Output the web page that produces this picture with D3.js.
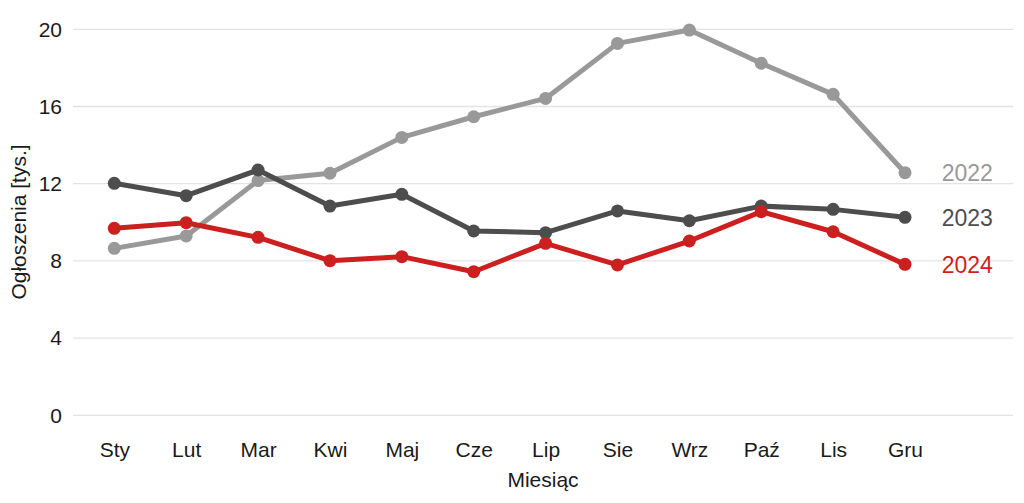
<!DOCTYPE html>
<html>
<head>
<meta charset="utf-8">
<script src="https://cdn.jsdelivr.net/npm/d3@7"></script>
<style>
  html, body { margin: 0; padding: 0; background: #ffffff; }
  svg { display: block; font-family: "Liberation Sans", Arial, sans-serif; }
</style>
</head>
<body>
<svg id="chart" width="1024" height="503"></svg>
<script>
const months = ["Sty", "Lut", "Mar", "Kwi", "Maj", "Cze", "Lip", "Sie", "Wrz", "Paź", "Lis", "Gru"];
const years = ["2022", "2023", "2024"];
const values2022 = [8.65, 9.29, 12.16, 12.54, 14.40, 15.47, 16.42, 19.27, 19.96, 18.24, 16.63, 12.57];
const values2023 = [12.02, 11.38, 12.71, 10.84, 11.45, 9.55, 9.46, 10.59, 10.08, 10.84, 10.67, 10.26];
const values2024 = [9.69, 9.98, 9.22, 8.01, 8.22, 7.44, 8.91, 7.79, 9.03, 10.55, 9.51, 7.82];
const yTicks = [0, 4, 8, 12, 16, 20];
const colors = ["#999999", "#4d4d4d", "#cc1f1f"];
const xTitle = "Miesiąc";
const yTitle = "Ogłoszenia [tys.]";

const seriesValues = [values2022, values2023, values2024];
const series = years.map((y, i) => ({ year: y, color: colors[i], values: seriesValues[i] }));

const svg = d3.select("#chart");
const W = 1024, H = 503;
const gridLeft = 73, gridRight = 1013;

const x = d3.scalePoint().domain(months).range([114.3, 905]);
const y = d3.scaleLinear().domain([0, 20]).range([415.3, 29.3]);

// grid lines
svg.append("g")
  .selectAll("line")
  .data(yTicks)
  .join("line")
  .attr("x1", gridLeft).attr("x2", gridRight)
  .attr("y1", d => y(d)).attr("y2", d => y(d))
  .attr("stroke", "#e3e3e3").attr("stroke-width", 1.3);

// y axis
const yAxis = svg.append("g")
  .attr("transform", `translate(${gridLeft},0)`)
  .call(d3.axisLeft(y).tickValues(yTicks).tickSize(0).tickPadding(11));
yAxis.select(".domain").remove();
yAxis.selectAll("text")
  .attr("font-size", 21)
  .attr("font-family", "'Liberation Sans', Arial, sans-serif")
  .attr("fill", "#1a1a1a");

// x axis
const xAxis = svg.append("g")
  .attr("transform", `translate(0,415.3)`)
  .call(d3.axisBottom(x).tickSize(0).tickPadding(27));
xAxis.select(".domain").remove();
xAxis.selectAll("text")
  .attr("font-size", 21)
  .attr("font-family", "'Liberation Sans', Arial, sans-serif")
  .attr("fill", "#1a1a1a");

// axis titles
svg.append("text")
  .attr("x", 543).attr("y", 487)
  .attr("text-anchor", "middle")
  .attr("font-size", 21)
  .attr("fill", "#1a1a1a")
  .text(xTitle);

svg.append("text")
  .attr("transform", `translate(25.5,222) rotate(-90)`)
  .attr("text-anchor", "middle")
  .attr("font-size", 21)
  .attr("fill", "#1a1a1a")
  .text(yTitle);

const line = d3.line()
  .x((d, i) => x(months[i]))
  .y(d => y(d));

// lines
svg.append("g")
  .selectAll("path")
  .data(series)
  .join("path")
  .attr("d", d => line(d.values))
  .attr("fill", "none")
  .attr("stroke", d => d.color)
  .attr("stroke-width", 5)
  .attr("stroke-linejoin", "round");

// points
series.forEach(s => {
  svg.append("g")
    .selectAll("circle")
    .data(s.values)
    .join("circle")
    .attr("cx", (d, i) => x(months[i]))
    .attr("cy", d => y(d))
    .attr("r", 6.5)
    .attr("fill", s.color);
});

// end labels
svg.append("g")
  .selectAll("text")
  .data(series)
  .join("text")
  .attr("x", 941.7)
  .attr("y", d => y(d.values[d.values.length - 1]) + 8.3)
  .attr("font-size", 23)
  .attr("fill", d => d.color)
  .text(d => d.year);
</script>
</body>
</html>
